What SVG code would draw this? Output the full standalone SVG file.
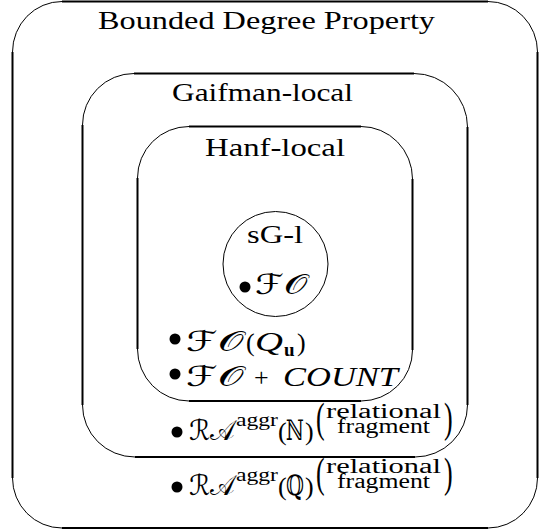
<svg xmlns="http://www.w3.org/2000/svg" width="548" height="532" viewBox="0 0 548 532">
<style>
.e{fill:none;stroke:#000;stroke-width:2}
.a{fill:none;stroke:#000;stroke-width:1}
text{fill:#000}
.t{font-family:"Liberation Serif","DejaVu Serif",serif;font-size:26px}
.m{font-family:"DejaVu Serif","DejaVu Sans","Liberation Serif",serif;font-size:28px}
.i{font-family:"Liberation Serif","DejaVu Serif",serif;font-style:italic;font-size:28px}
.s{font-family:"Liberation Serif","DejaVu Serif",serif;font-size:20px}
.u{font-family:"Liberation Serif","DejaVu Serif",serif;font-size:19px}
.b{font-family:"Liberation Serif","DejaVu Serif",serif;font-weight:bold;font-size:19px}
</style>
<rect width="548" height="532" fill="#fff"/>
<g id="bounded">
<path class="e" d="M62 1.5H488M537.5 52V478M488 528H62M12.5 478V52"/>
<path class="a" d="M488 1.5A49.5 50.5 0 0 1 537.5 52M537.5 478A49.5 50 0 0 1 488 528M62 528A49.5 50 0 0 1 12.5 478M12.5 52A49.5 50.5 0 0 1 62 1.5"/>
<text class="t" x="98" y="29" textLength="337" lengthAdjust="spacingAndGlyphs">Bounded Degree Property</text>
<circle cx="177" cy="487" r="5.5"/>
<text class="m" x="189" y="495" textLength="45" lengthAdjust="spacingAndGlyphs">ℛ𝒜</text>
<text class="u" x="236" y="481" textLength="42" lengthAdjust="spacingAndGlyphs">aggr</text>
<text class="t" x="278" y="495">(</text>
<text class="m" x="286" y="495" textLength="18" lengthAdjust="spacingAndGlyphs">ℚ</text>
<text class="t" x="305" y="495">)</text>
<text class="t" transform="translate(316,487) scale(1,1.6)">(</text>
<text class="s"><tspan x="326" y="473" textLength="115" lengthAdjust="spacingAndGlyphs">relational</tspan><tspan x="337" y="488" textLength="93" lengthAdjust="spacingAndGlyphs">fragment</tspan></text>
<text class="t" transform="translate(444,487) scale(1,1.6)">)</text>
</g>
<g id="gaifman">
<path class="e" d="M134 73.5H414M467.5 127V405M415 457H135M82.5 405V125"/>
<path class="a" d="M414 73.5A53.5 53.5 0 0 1 467.5 127M467.5 405A52.5 52 0 0 1 415 457M135 457A52.5 52 0 0 1 82.5 405M82.5 125A51.5 51.5 0 0 1 134 73.5"/>
<text class="t" x="172" y="101" textLength="181" lengthAdjust="spacingAndGlyphs">Gaifman-local</text>
<circle cx="177" cy="432" r="5.5"/>
<text class="m" x="189" y="440" textLength="45" lengthAdjust="spacingAndGlyphs">ℛ𝒜</text>
<text class="u" x="236" y="426" textLength="42" lengthAdjust="spacingAndGlyphs">aggr</text>
<text class="t" x="278" y="440">(</text>
<text class="m" x="286" y="440" textLength="18" lengthAdjust="spacingAndGlyphs">ℕ</text>
<text class="t" x="305" y="440">)</text>
<text class="t" transform="translate(316,432) scale(1,1.6)">(</text>
<text class="s"><tspan x="326" y="418" textLength="115" lengthAdjust="spacingAndGlyphs">relational</tspan><tspan x="337" y="433" textLength="93" lengthAdjust="spacingAndGlyphs">fragment</tspan></text>
<text class="t" transform="translate(444,432) scale(1,1.6)">)</text>
</g>
<g id="hanf">
<path class="e" d="M189 126.5H361M412.5 179V350M361 401H189M137.5 349V178"/>
<path class="a" d="M361 126.5A51.5 52.5 0 0 1 412.5 179M412.5 350A51.5 51 0 0 1 361 401M189 401A51.5 52 0 0 1 137.5 349M137.5 178A51.5 51.5 0 0 1 189 126.5"/>
<text class="t" x="205" y="156" textLength="140" lengthAdjust="spacingAndGlyphs">Hanf-local</text>
<circle cx="175" cy="339" r="5.5"/>
<text class="m" x="186" y="351" textLength="58" lengthAdjust="spacingAndGlyphs">ℱ𝒪</text>
<text class="t" x="246" y="351">(</text>
<text class="i" x="255" y="351" textLength="28" lengthAdjust="spacingAndGlyphs">Q</text>
<text class="b" x="284" y="356">u</text>
<text class="t" x="297" y="351">)</text>
<circle cx="175" cy="374" r="5.5"/>
<text class="m" x="186" y="386" textLength="58" lengthAdjust="spacingAndGlyphs">ℱ𝒪</text>
<text class="t" x="254" y="386" font-size="31">+</text>
<text class="i" x="283" y="386" textLength="115" lengthAdjust="spacingAndGlyphs">COUNT</text>
</g>
<g id="sgl">
<circle class="a" cx="275.5" cy="264" r="52.5"/>
<text class="t" x="247" y="243" textLength="56" lengthAdjust="spacingAndGlyphs">sG-l</text>
<circle cx="245" cy="287" r="5.5"/>
<text class="m" x="255" y="294" textLength="53" lengthAdjust="spacingAndGlyphs">ℱ𝒪</text>
</g>
<g id="connectors"/>
</svg>
